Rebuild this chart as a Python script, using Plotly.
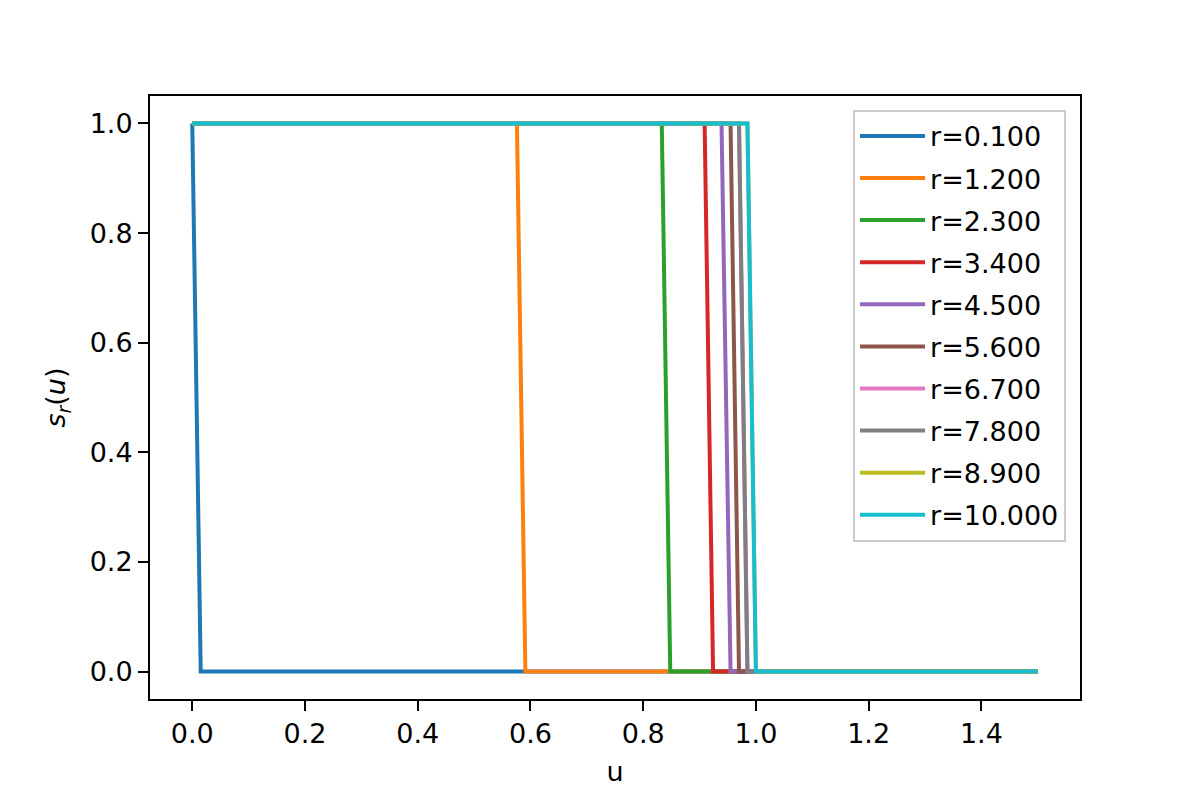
import plotly.graph_objects as go

# u where each curve is last at 1 and first at 0
r_labels = ['r=0.100', 'r=1.200', 'r=2.300', 'r=3.400', 'r=4.500',
            'r=5.600', 'r=6.700', 'r=7.800', 'r=8.900', 'r=10.000']
u_last_one = [0.0, 0.576, 0.833, 0.909, 0.939, 0.955, 0.970, 0.970, 0.985, 0.985]
u_first_zero = [0.015, 0.591, 0.848, 0.924, 0.955, 0.970, 0.985, 0.985, 1.0, 1.0]
u_start = 0.0
u_end = 1.5
x_ticks = [0.0, 0.2, 0.4, 0.6, 0.8, 1.0, 1.2, 1.4]
y_ticks = [0.0, 0.2, 0.4, 0.6, 0.8, 1.0]

colors = ['#1f77b4', '#ff7f0e', '#2ca02c', '#d62728', '#9467bd',
          '#8c564b', '#e377c2', '#7f7f7f', '#bcbd22', '#17becf']

fig = go.Figure()

for i, name in enumerate(r_labels):
    fig.add_trace(go.Scatter(
        x=[u_start, u_last_one[i], u_first_zero[i], u_end],
        y=[1, 1, 0, 0],
        mode='lines',
        name=name,
        legendgroup=name,
        line=dict(color=colors[i], width=4)
    ))

axis_common = dict(
    showline=True, linecolor='black', linewidth=2, mirror=True,
    showgrid=False, zeroline=False,
    ticks='outside', ticklen=10, tickwidth=2, tickcolor='black',
    tickfont=dict(size=27, color='black'),
)

# page body adds ~8px, so margins are shifted to land the axes box where the reference has it
fig.update_layout(
    width=1200, height=800,
    template='plotly_white',
    plot_bgcolor='white', paper_bgcolor='white',
    font=dict(family='DejaVu Sans', color='black'),
    margin=dict(l=142, r=128, t=88, b=109),
    xaxis=dict(range=[-0.075, 1.575], tickvals=x_ticks, tickformat='.1f',
               title=dict(text='u', font=dict(size=27), standoff=14),
               **axis_common),
    yaxis=dict(range=[-0.05, 1.05], tickvals=y_ticks, tickformat='.1f',
               title=dict(text='<i>s</i><sub><i>r</i></sub>(<i>u</i>)',
                          font=dict(size=27), standoff=16),
               **axis_common),
    legend=dict(
        x=0.985, y=0.977, xanchor='right', yanchor='top',
        bgcolor='rgba(255,255,255,0.8)', bordercolor='#cccccc', borderwidth=2,
        font=dict(size=27), traceorder='grouped', tracegroupgap=4,
        itemwidth=65,
    ),
)

fig.write_html("out.html")
